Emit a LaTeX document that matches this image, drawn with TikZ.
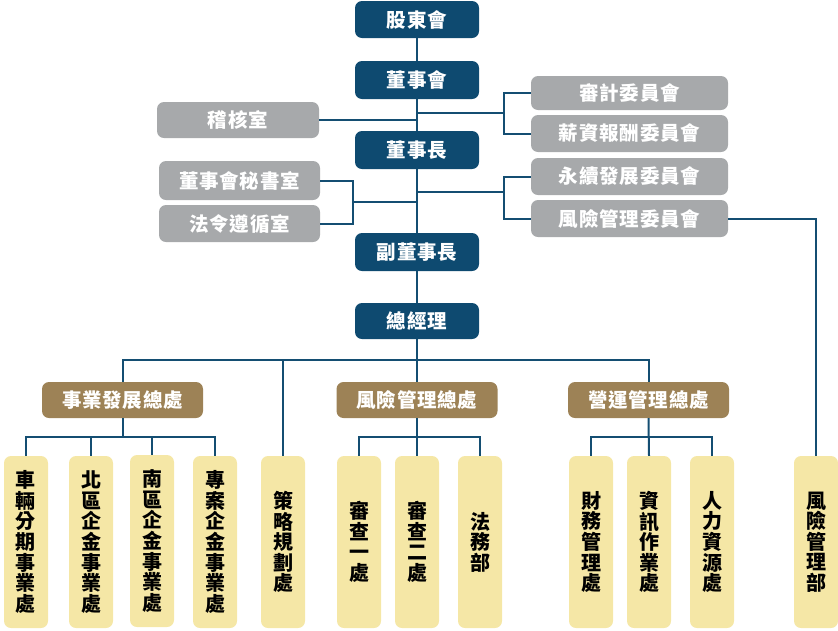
\documentclass[tikz,border=0pt]{standalone}
\usepackage{fontspec}
\setmainfont{Noto Sans CJK TC}[LetterSpace=4]
\definecolor{navy}{RGB}{14,74,112}
\definecolor{lnavy}{RGB}{20,78,114}
\definecolor{greyb}{RGB}{167,169,171}
\definecolor{brownb}{RGB}{157,130,86}
\definecolor{yelb}{RGB}{245,231,166}
\tikzset{
  box/.style={rectangle, rounded corners=7pt, inner sep=0pt, text=white,
    font=\fontsize{19.5}{21}\selectfont\bfseries},
  navybox/.style={box, fill=navy, minimum width=124pt},
  greybox/.style={box, fill=greyb},
  brownbox/.style={box, fill=brownb, minimum width=161pt, minimum height=36pt},
  yelbox/.style={rectangle, rounded corners=7pt, inner sep=0pt, fill=yelb, text=black,
    minimum width=44pt, minimum height=172pt, align=center,
    font=\fontsize{20}{20.6}\selectfont\bfseries},
  conn/.style={draw=lnavy, line width=2pt}
}
\begin{document}
\begin{tikzpicture}[x=1pt,y=-1pt]
\useasboundingbox (0,0) rectangle (838,630);
% top chain
\node[navybox, minimum height=37pt] (gdh) at (417,19.5) {股東會};
\node[navybox, minimum height=38pt] (dsh) at (417,80) {董事會};
\node[navybox, minimum height=38pt] (dsz) at (417,150) {董事長};
\node[navybox, minimum height=38pt] (fdsz) at (417,252) {副董事長};
\node[navybox, minimum height=36pt] (zjl) at (417,321) {總經理};
% side boxes
\node[greybox, minimum width=162pt, minimum height=36pt] (jhs) at (238,120) {稽核室};
\node[greybox, minimum width=161pt, minimum height=39pt] (msh) at (239.5,180.5) {董事會秘書室};
\node[greybox, minimum width=161pt, minimum height=37pt] (fl) at (239.5,223.5) {法令遵循室};
\node[greybox, minimum width=197pt, minimum height=34pt] (sj) at (629.5,93) {審計委員會};
\node[greybox, minimum width=197pt, minimum height=37pt] (xz) at (629.5,133.5) {薪資報酬委員會};
\node[greybox, minimum width=197pt, minimum height=37pt] (yx) at (629.5,176.5) {永續發展委員會};
\node[greybox, minimum width=197pt, minimum height=37pt] (fx) at (629.5,218.5) {風險管理委員會};
% divisions
\node[brownbox] (bd) at (122.5,400) {事業發展總處};
\node[brownbox] (rm) at (417,400) {風險管理總處};
\node[brownbox] (op) at (648.5,400) {營運管理總處};
% departments
\node[yelbox] (y1) at (26,542) {車\\輛\\分\\期\\事\\業\\處};
\node[yelbox] (y2) at (91,542) {北\\區\\企\\金\\事\\業\\處};
\node[yelbox] (y3) at (152,541) {南\\區\\企\\金\\事\\業\\處};
\node[yelbox] (y4) at (215,542) {專\\案\\企\\金\\事\\業\\處};
\node[yelbox] (cl) at (283,542) {策\\略\\規\\劃\\處};
\node[yelbox] (r1) at (359,542) {審\\查\\一\\處};
\node[yelbox] (r2) at (417,542) {審\\查\\二\\處};
\node[yelbox] (r3) at (480,542) {法\\務\\部};
\node[yelbox] (o1) at (591,542) {財\\務\\管\\理\\處};
\node[yelbox] (o2) at (649,542) {資\\訊\\作\\業\\處};
\node[yelbox] (o3) at (712,542) {人\\力\\資\\源\\處};
\node[yelbox] (rmd) at (816,542) {風\\險\\管\\理\\部};
% junction coordinates
\coordinate (b1) at (504,112.7);
\coordinate (b2) at (504,191.7);
\coordinate (bl) at (353,202);
\coordinate (bus) at (417,360);
\coordinate (s1) at (122.5,437);
\coordinate (s2) at (417,437);
\coordinate (s3) at (648.5,437);
% connectors
\draw[conn] (gdh) -- (dsh);
\draw[conn] (dsh) -- (dsz);
\draw[conn] (dsz) -- (fdsz);
\draw[conn] (fdsz) -- (zjl);
\draw[conn] (jhs.east) -- (jhs.east -| dsh.south);
\draw[conn] (dsh.south |- b1) -- (b1);
\draw[conn] (sj.west) -| (b1) |- (xz.west);
\draw[conn] (dsz.south |- b2) -- (b2);
\draw[conn] (yx.west) -| (b2) |- (fx.west);
\draw[conn] (msh.east) -| (bl) |- (fl.east);
\draw[conn] (bl) -- (bl -| dsz.south);
\draw[conn] (zjl) -- (rm);
\draw[conn] (bd.north) |- (bus) -| (op.north);
\draw[conn] (cl.north) -- (cl.north |- bus);
\draw[conn] (fx.east) -| (rmd.north);
% sub-buses
\draw[conn] (y1.north) |- (s1) -| (y4.north);
\draw[conn] (bd.south) -- (s1);
\draw[conn] (y2.north) -- (y2.north |- s1);
\draw[conn] (y3.north) -- (y3.north |- s1);
\draw[conn] (r1.north) |- (s2) -| (r3.north);
\draw[conn] (rm.south) -- (r2.north);
\draw[conn] (o1.north) |- (s3) -| (o3.north);
\draw[conn] (op.south) -- (o2.north);
\end{tikzpicture}
\end{document}
